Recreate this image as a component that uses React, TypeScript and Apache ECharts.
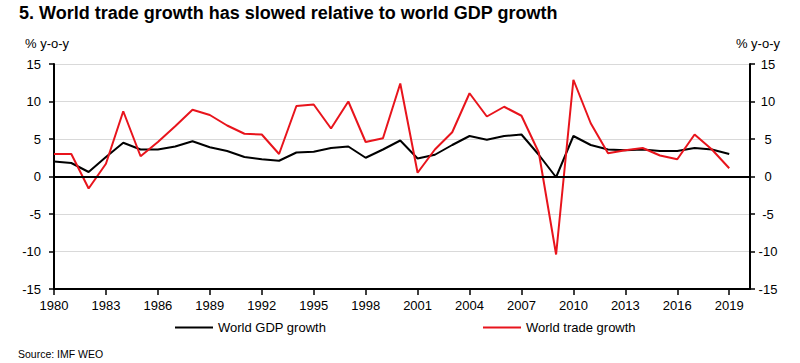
import React, { useEffect, useRef } from "react";
import * as echarts from "echarts";

const years = [
  1980, 1981, 1982, 1983, 1984, 1985, 1986, 1987, 1988, 1989,
  1990, 1991, 1992, 1993, 1994, 1995, 1996, 1997, 1998, 1999,
  2000, 2001, 2002, 2003, 2004, 2005, 2006, 2007, 2008, 2009,
  2010, 2011, 2012, 2013, 2014, 2015, 2016, 2017, 2018, 2019,
];

const gdpGrowth = [
  2.0, 1.8, 0.6, 2.6, 4.5, 3.6, 3.6, 4.0, 4.7, 3.9,
  3.4, 2.6, 2.3, 2.1, 3.2, 3.3, 3.8, 4.0, 2.5, 3.6,
  4.8, 2.4, 2.9, 4.2, 5.4, 4.9, 5.4, 5.6, 2.9, -0.1,
  5.4, 4.2, 3.6, 3.5, 3.6, 3.4, 3.4, 3.8, 3.6, 3.0,
];

const tradeGrowth = [
  3.0, 3.0, -1.6, 1.7, 8.7, 2.7, 4.6, 6.7, 8.9, 8.2,
  6.8, 5.7, 5.6, 3.0, 9.4, 9.6, 6.4, 10.0, 4.6, 5.1,
  12.4, 0.5, 3.6, 5.9, 11.1, 8.0, 9.3, 8.1, 3.2, -10.4,
  12.9, 7.1, 3.1, 3.5, 3.8, 2.8, 2.3, 5.6, 3.6, 1.1,
];

const xTickYears = [1980, 1983, 1986, 1989, 1992, 1995, 1998, 2001, 2004, 2007, 2010, 2013, 2016, 2019];
const yTicks = [-15, -10, -5, 0, 5, 10, 15];

const TITLE = "5. World trade growth has slowed relative to world GDP growth";
const UNIT = "% y-o-y";
const SOURCE = "Source: IMF WEO";
const GDP_NAME = "World GDP growth";
const TRADE_NAME = "World trade growth";

const FONT = "'Liberation Sans', Arial, Helvetica, sans-serif";
const RED = "#e8141c";

export default function App() {
  const ref = useRef<HTMLDivElement>(null);
  useEffect(() => {
    if (!ref.current) return;
    const chart = echarts.init(ref.current, null, { renderer: "svg" });
    const yAxisCommon = {
      type: "value",
      min: yTicks[0],
      max: yTicks[yTicks.length - 1],
      interval: 5,
      axisLine: { show: true, lineStyle: { color: "#000", width: 2 } },
      axisTick: { show: true, inside: false, length: 5, lineStyle: { color: "#000", width: 1.5 } },
      axisLabel: { color: "#000", fontSize: 13, fontFamily: FONT },
    };
    chart.setOption({
      animation: false,
      backgroundColor: "#fff",
      textStyle: { fontFamily: FONT },
      grid: { left: 54, right: 50, top: 64, bottom: 74, containLabel: false },
      xAxis: {
        type: "value",
        min: years[0],
        max: 2020.2,
        axisLine: { show: true, onZero: false, lineStyle: { color: "#000", width: 2 } },
        axisTick: { show: true, length: 6, customValues: xTickYears, lineStyle: { color: "#000", width: 1.5 } },
        axisLabel: { color: "#000", fontSize: 13, fontFamily: FONT, margin: 10, customValues: xTickYears, formatter: (v: number) => String(v) },
        splitLine: { show: false },
      },
      yAxis: [
        {
          ...yAxisCommon,
          position: "left",
          splitLine: { show: true, lineStyle: { color: "#d9d9d9", width: 1 } },
          axisLabel: { ...yAxisCommon.axisLabel, margin: 13, align: "right" },
        },
        {
          ...yAxisCommon,
          position: "right",
          splitLine: { show: false },
          axisLabel: { ...yAxisCommon.axisLabel, margin: 18, align: "center" },
        },
      ],
      legend: [
        {
          data: [GDP_NAME],
          left: 175,
          top: 321,
          padding: 0,
          icon: "rect",
          itemWidth: 38,
          itemHeight: 2,
          itemGap: 5,
          textStyle: { color: "#000", fontSize: 13, fontFamily: FONT },
        },
        {
          data: [TRADE_NAME],
          left: 483,
          top: 321,
          padding: 0,
          icon: "rect",
          itemWidth: 38,
          itemHeight: 2,
          textStyle: { color: "#000", fontSize: 13, fontFamily: FONT },
        },
      ],
      series: [
        {
          name: GDP_NAME,
          type: "line",
          data: years.map((y, i) => [y, gdpGrowth[i]]),
          symbol: "none",
          lineStyle: { color: "#000", width: 2 },
          itemStyle: { color: "#000" },
          z: 3,
          markLine: {
            silent: true,
            symbol: "none",
            label: { show: false },
            lineStyle: { color: "#000", width: 2, type: "solid" },
            data: [{ yAxis: 0 }],
          },
        },
        {
          name: TRADE_NAME,
          type: "line",
          data: years.map((y, i) => [y, tradeGrowth[i]]),
          symbol: "none",
          lineStyle: { color: RED, width: 2 },
          itemStyle: { color: RED },
          z: 4,
        },
      ],
      graphic: [
        {
          type: "text",
          left: 19,
          top: 4,
          style: { text: TITLE, fontSize: 18, fontWeight: "bold", fill: "#000", fontFamily: FONT },
        },
        {
          type: "text",
          left: 25,
          top: 37,
          style: { text: UNIT, fontSize: 13, fill: "#000", fontFamily: FONT },
        },
        {
          type: "text",
          right: 20,
          top: 37,
          style: { text: UNIT, fontSize: 13, fill: "#000", fontFamily: FONT },
        },
        {
          type: "text",
          left: 18,
          top: 348,
          style: { text: SOURCE, fontSize: 10.5, fill: "#000", fontFamily: FONT },
        },
      ],
    });
    return () => chart.dispose();
  }, []);
  return (
    <div
      ref={ref}
      style={{ position: "absolute", left: 0, top: 0, width: 800, height: 363 }}
    />
  );
}
